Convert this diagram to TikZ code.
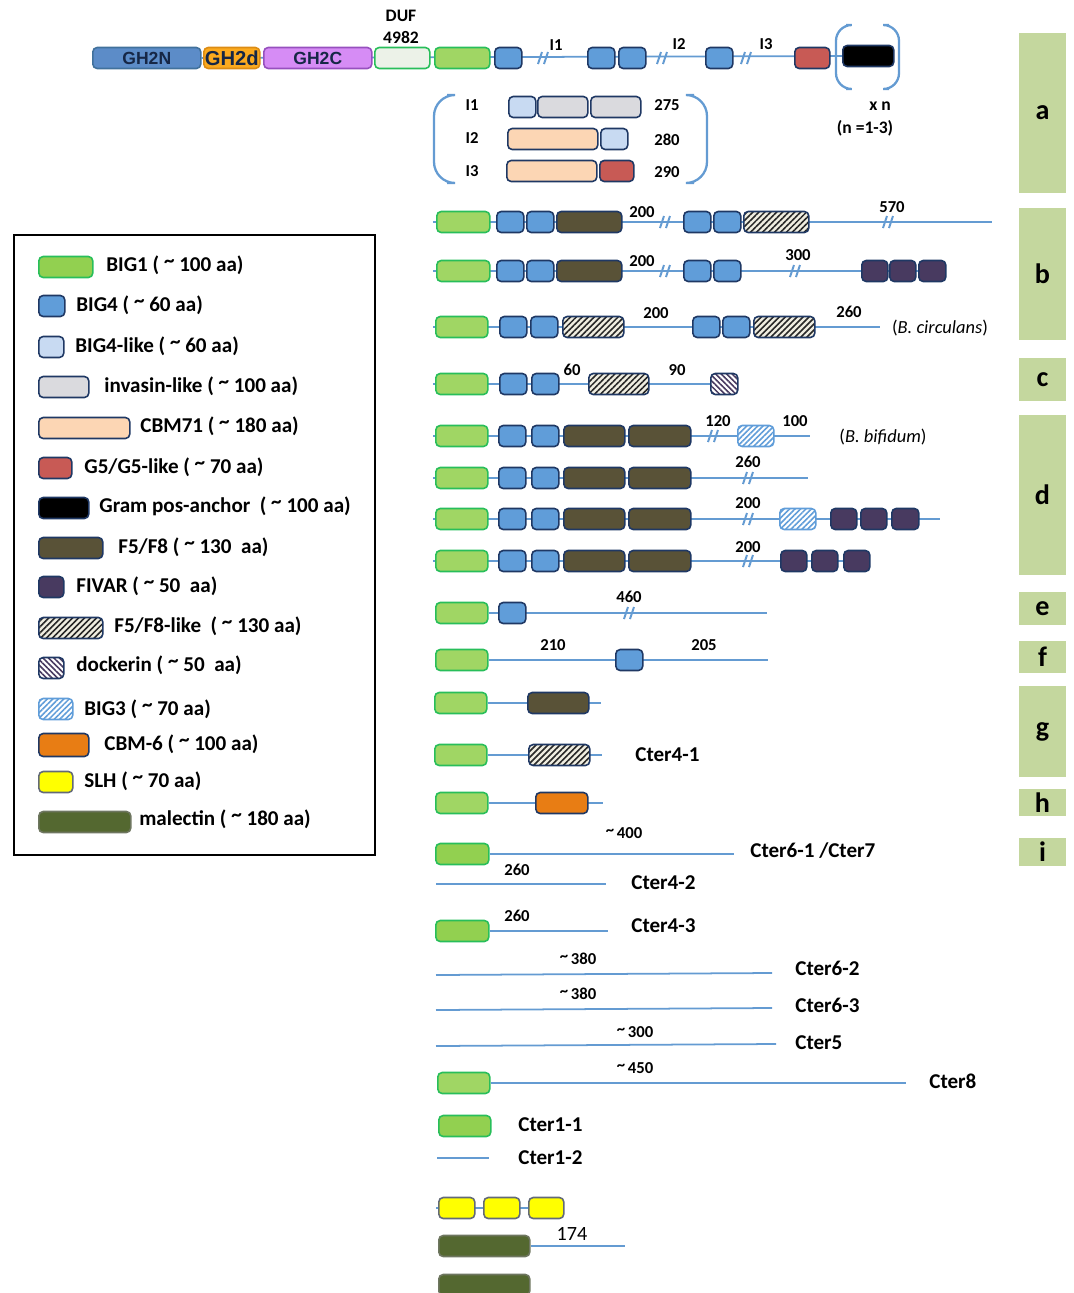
\documentclass[tikz,border=0pt]{standalone}
\usepackage{fontspec}
\setmainfont{Carlito}
\newfontfamily\arialf{Liberation Sans}
\usetikzlibrary{patterns.meta,backgrounds}
\newcommand\tld{\raisebox{0.35ex}{\textasciitilde}}
\definecolor{navy}{RGB}{31,56,100}
\definecolor{lineb}{RGB}{100,155,210}
\definecolor{bigone}{RGB}{160,214,100}
\definecolor{bigonek}{RGB}{146,208,80}
\definecolor{bigoned}{RGB}{40,190,90}
\definecolor{bigfour}{RGB}{96,157,217}
\definecolor{bigfourl}{RGB}{200,218,242}
\definecolor{invas}{RGB}{218,218,222}
\definecolor{cbmsev}{RGB}{252,214,180}
\definecolor{gfive}{RGB}{200,90,85}
\definecolor{ffive}{RGB}{89,82,55}
\definecolor{fivarc}{RGB}{72,58,96}
\definecolor{beige}{RGB}{240,238,225}
\definecolor{cbmsix}{RGB}{232,125,20}
\definecolor{slhc}{RGB}{255,255,0}
\definecolor{malec}{RGB}{84,104,48}
\definecolor{barg}{RGB}{196,215,158}
\definecolor{ghn}{RGB}{92,140,200}
\definecolor{ghnd}{RGB}{65,113,156}
\definecolor{ghd}{RGB}{252,170,30}
\definecolor{ghdd}{RGB}{220,140,20}
\definecolor{ghc}{RGB}{214,140,245}
\definecolor{ghcd}{RGB}{150,80,190}
\definecolor{dufc}{RGB}{236,242,232}
\begin{document}
\begin{tikzpicture}[x=0.2mm,y=-0.2mm,
    dom/.style={draw=navy,line width=0.9pt,rounded corners=2.5pt,inner sep=0pt,
      anchor=west,minimum height=4.2mm,minimum width=#1*0.2mm},
    dom/.default=27,
    big1/.style={dom=#1,fill=bigone,draw=bigoned},big1/.default=52,
    big4/.style={dom=#1,fill=bigfour},big4/.default=27,
    big4l/.style={dom=#1,fill=bigfourl},big4l/.default=27,
    inv/.style={dom=#1,fill=invas},inv/.default=50,
    cbm71/.style={dom=#1,fill=cbmsev},cbm71/.default=90,
    g5/.style={dom=#1,fill=gfive},g5/.default=35,
    gram/.style={dom=#1,fill=black},gram/.default=51,
    f58/.style={dom=#1,fill=ffive},f58/.default=62,
    fivar/.style={dom=#1,fill=fivarc},fivar/.default=26,
    f58l/.style={dom=#1,preaction={fill=beige},pattern={Lines[angle=45,distance=2.4pt,line width=0.9pt]},pattern color=black!85},f58l/.default=62,
    dock/.style={dom=#1,preaction={fill=white},pattern={Lines[angle=-45,distance=2.2pt,line width=0.9pt]},pattern color=fivarc},dock/.default=27,
    big3/.style={dom=#1,draw=bigfour,preaction={fill=white},pattern={Lines[angle=45,distance=2.2pt,line width=0.9pt]},pattern color=bigfour},big3/.default=36,
    cbm6/.style={dom=#1,fill=cbmsix},cbm6/.default=52,
    slhb/.style={dom=#1,fill=slhc,draw=gray!70!navy},slhb/.default=36,
    mal/.style={dom=#1,fill=malec,draw=gray!60!malec},mal/.default=91,
    gh/.style={dom=#1,font=\arialf\bfseries\fontsize{10}{12}\selectfont,text=navy!70!black},
    ln/.style={draw=lineb,line width=1pt},
    num/.style={font=\bfseries\fontsize{9.5}{11}\selectfont,inner sep=0pt},
    lab/.style={font=\bfseries\fontsize{12}{14}\selectfont,anchor=west,inner sep=0pt},
    leg/.style={font=\bfseries\fontsize{12}{14}\selectfont,anchor=west,inner sep=0pt},
    bar/.style={fill=barg,minimum width=47*0.2mm,minimum height=#1*0.2mm,inner sep=0pt,font=\bfseries\fontsize{16}{18}\selectfont},
    brk/.pic={\draw[lineb,line width=1.1pt] (-5,6) -- (-1,-6) (1,6) -- (5,-6);}]
\useasboundingbox (0,0) rectangle (1073,1293);

\node[gh=108,fill=ghn,draw=ghnd] (gh2n) at (92,58) {GH2N};
\node[gh=56,fill=ghd,draw=ghdd,font=\arialf\bfseries\fontsize{11.5}{13}\selectfont] (gh2d) at (203,58) {GH2d};
\node[gh=108,fill=ghc,draw=ghcd] (gh2c) at (263,58) {GH2C};
\node[dom=55,fill=dufc,draw=bigoned] (duf) at (374,58) {};
\node[num,font=\bfseries\fontsize{10}{12}\selectfont] (duft) at (401,16) {DUF};
\node[num,font=\bfseries\fontsize{10}{12}\selectfont] (dufn) at (401,37) {4982};
\node[big1=55] (a1) at (434,58) {};
\node[big4] (a2) at (494,58) {};
\node[big4] (a3) at (587,58) {};
\node[big4] (a4) at (618,58) {};
\node[big4] (a5) at (705,58) {};
\node[g5] (a6) at (794,58) {};
\node[gram] (a7) at (842,56) {};
\pic at (543,58) {brk};
\pic at (662,58) {brk};
\pic at (746,58) {brk};
\node[num] (ti1) at (556,45) {I1};
\node[num] (ti2) at (679,44) {I2};
\node[num] (ti3) at (766,44) {I3};
\draw[ln,line width=1.3pt,rounded corners=9] (846,25) -- (836,25) -- (836,89) -- (846,89);
\draw[ln,line width=1.3pt,rounded corners=9] (889,25) -- (899,25) -- (899,89) -- (889,89);
\node[num,font=\bfseries\fontsize{10}{12}\selectfont] (xn) at (880,106) {x n};
\node[num,font=\bfseries\fontsize{10}{12}\selectfont] (nn) at (865,128) {(n =1-3)};

\draw[ln,line width=1.3pt,rounded corners=12] (447,95) -- (434,95) -- (434,183) -- (447,183);
\draw[ln,line width=1.3pt,rounded corners=12] (694,95) -- (707,95) -- (707,183) -- (694,183);
\node[num] (li1) at (472,105) {I1};
\node[num] (li2) at (472,138) {I2};
\node[num] (li3) at (472,171) {I3};
\node[big4l] (i1a) at (508,107) {};
\node[inv] (i1b) at (537,107) {};
\node[inv] (i1c) at (590,107) {};
\node[cbm71] (i2a) at (507,139) {};
\node[big4l] (i2b) at (600,139) {};
\node[cbm71] (i3a) at (506,171) {};
\node[g5=34] (i3b) at (599,171) {};
\node[num] (l275) at (667,105) {275};
\node[num] (l280) at (667,140) {280};
\node[num] (l290) at (667,172) {290};

\node[big1=53] (b1a) at (436,222) {};
\node[big4] (b1b) at (496,222) {};
\node[big4] (b1c) at (526,222) {};
\node[f58=65] (b1d) at (556,222) {};
\node[big4] (b1e) at (683,222) {};
\node[big4] (b1f) at (713,222) {};
\node[f58l=65] (b1g) at (743,222) {};
\coordinate (b1s) at (433,222);
\coordinate (b1t) at (992,222);
\pic at (665,222) {brk};
\pic at (888,222) {brk};
\node[num] (b1n) at (642,212) {200};
\node[num] (b1m) at (892,207) {570};

\node[big1=53] (b2a) at (436,271) {};
\node[big4] (b2b) at (496,271) {};
\node[big4] (b2c) at (526,271) {};
\node[f58=65] (b2d) at (556,271) {};
\node[big4] (b2e) at (683,271) {};
\node[big4] (b2f) at (713,271) {};
\node[fivar] (b2g) at (861,271) {};
\node[fivar] (b2h) at (889,271) {};
\node[fivar=27] (b2i) at (918,271) {};
\coordinate (b2s) at (433,271);
\pic at (665,271) {brk};
\pic at (795,271) {brk};
\node[num] (b2n) at (642,261) {200};
\node[num] (b2m) at (798,255) {300};

\node[big1] (b3a) at (435,327) {};
\node[big4] (b3b) at (499,327) {};
\node[big4] (b3c) at (530,327) {};
\node[f58l=61] (b3d) at (562,327) {};
\node[big4] (b3e) at (692,327) {};
\node[big4] (b3f) at (722,327) {};
\node[f58l=61] (b3g) at (753,327) {};
\coordinate (b3s) at (433,327);
\coordinate (b3t) at (880,327);
\node[num] (b3n) at (656,313) {200};
\node[num] (b3m) at (849,312) {260};
\node[font=\fontsize{10.5}{12}\selectfont,inner sep=0pt] (b3o) at (940,328) {(\textit{B. circulans})};

\node[big1] (c1a) at (435,384) {};
\node[big4] (c1b) at (499,384) {};
\node[big4] (c1c) at (531,384) {};
\node[f58l=60] (c1d) at (588,384) {};
\node[dock] (c1e) at (710,384) {};
\coordinate (c1s) at (433,384);
\node[num] (c1n) at (572,370) {60};
\node[num] (c1m) at (677,370) {90};

\node[big1] (d1a) at (435,436) {};
\node[big4] (d1b) at (498,436) {};
\node[big4] (d1c) at (531,436) {};
\node[f58=61] (d1d) at (563,436) {};
\node[f58] (d1e) at (628,436) {};
\node[big3] (d1f) at (737,436) {};
\coordinate (d1s) at (433,436);
\coordinate (d1t) at (810,436);
\pic at (713,436) {brk};
\node[num] (d1n) at (718,421) {120};
\node[num] (d1m) at (795,421) {100};
\node[font=\fontsize{10.5}{12}\selectfont,inner sep=0pt] (d1o) at (883,437) {(\textit{B. bifidum})};

\node[big1] (d2a) at (435,478) {};
\node[big4] (d2b) at (498,478) {};
\node[big4] (d2c) at (531,478) {};
\node[f58=61] (d2d) at (563,478) {};
\node[f58] (d2e) at (628,478) {};
\coordinate (d2s) at (433,478);
\coordinate (d2t) at (808,478);
\pic at (748,478) {brk};
\node[num] (d2n) at (748,462) {260};

\node[big1] (d3a) at (435,519) {};
\node[big4] (d3b) at (498,519) {};
\node[big4] (d3c) at (531,519) {};
\node[f58=61] (d3d) at (563,519) {};
\node[f58] (d3e) at (628,519) {};
\node[big3] (d3f) at (779,519) {};
\node[fivar] (d3g) at (830,519) {};
\node[fivar] (d3h) at (860,519) {};
\node[fivar=27] (d3i) at (891,519) {};
\coordinate (d3s) at (433,519);
\coordinate (d3t) at (940,519);
\pic at (748,519) {brk};
\node[num] (d3n) at (748,503) {200};

\node[big1] (d4a) at (435,561) {};
\node[big4] (d4b) at (498,561) {};
\node[big4] (d4c) at (531,561) {};
\node[f58=61] (d4d) at (563,561) {};
\node[f58] (d4e) at (628,561) {};
\node[fivar] (d4f) at (780,561) {};
\node[fivar] (d4g) at (811,561) {};
\node[fivar] (d4h) at (843,561) {};
\coordinate (d4s) at (433,561);
\pic at (748,561) {brk};
\node[num] (d4n) at (748,547) {200};

\node[big1] (e1a) at (435,613) {};
\node[big4] (e1b) at (498,613) {};
\coordinate (e1t) at (767,613);
\pic at (629,613) {brk};
\node[num] (e1n) at (629,597) {460};

\node[big1] (f1a) at (435,660) {};
\node[big4] (f1b) at (615,660) {};
\coordinate (f1t) at (768,660);
\node[num] (f1n) at (553,645) {210};
\node[num] (f1m) at (704,645) {205};

\node[big1] (g1a) at (434,703) {};
\node[f58=61] (g1b) at (527,703) {};
\coordinate (g1t) at (601,703);

\node[big1] (g2a) at (434,755) {};
\node[f58l=61] (g2b) at (528,755) {};
\coordinate (g2t) at (602,755);
\node[lab] (g2l) at (635,755) {Cter4-1};

\node[big1] (h1a) at (435,803) {};
\node[cbm6] (h1b) at (535,803) {};
\coordinate (h1t) at (603,803);

\node[big1=53,fill=bigonek] (k1a) at (435,854) {};
\coordinate (k1t) at (734,854);
\node[num] (k1n) at (624,833) {\tld\,400};
\node[lab] (k1l) at (750,851) {Cter6-1 /Cter7};

\coordinate (k2s) at (436,884);
\coordinate (k2t) at (606,884);
\node[num] (k2n) at (517,870) {260};
\node[lab] (k2l) at (631,883) {Cter4-2};

\node[big1=53,fill=bigonek] (k3a) at (435,931) {};
\coordinate (k3t) at (608,931);
\node[num] (k3n) at (517,916) {260};
\node[lab] (k3l) at (631,926) {Cter4-3};

\coordinate (k4s) at (436,975);
\coordinate (k4t) at (772,973);
\node[num] (k4n) at (578,959) {\tld\,380};
\node[lab] (k4l) at (795,968) {Cter6-2};

\coordinate (k5s) at (436,1010);
\coordinate (k5t) at (772,1008);
\node[num] (k5n) at (578,994) {\tld\,380};
\node[lab] (k5l) at (795,1005) {Cter6-3};

\coordinate (k6s) at (436,1046);
\coordinate (k6t) at (776,1044);
\node[num] (k6n) at (635,1032) {\tld\,300};
\node[lab] (k6l) at (795,1043) {Cter5};

\node[big1] (k7a) at (437,1083) {};
\coordinate (k7t) at (906,1083);
\node[num] (k7n) at (635,1068) {\tld\,450};
\node[lab] (k7l) at (929,1081) {Cter8};

\node[big1,fill=bigonek] (k8a) at (438,1126) {};
\node[lab] (k8l) at (518,1125) {Cter1-1};

\coordinate (k9s) at (437,1158);
\coordinate (k9t) at (489,1158);
\node[lab] (k9l) at (518,1158) {Cter1-2};

\node[slhb] (s1) at (438,1208) {};
\node[slhb] (s2) at (483,1208) {};
\node[slhb=35] (s3) at (528,1208) {};
\coordinate (s0) at (436,1208);

\node[mal] (m1) at (438,1246) {};
\coordinate (m1t) at (625,1246);
\node[font=\fontsize{11.5}{13}\selectfont,inner sep=0pt] (m1n) at (572,1234) {174};
\node[mal] (m2) at (438,1285) {};

\draw[line width=1.2pt] (14,235) rectangle (375,855);
\node[big1=54,fill=bigonek] (g01) at (38,267) {};
\node[leg] (t01) at (106,265) {BIG1 ( \tld{} 100 aa)};
\node[big4=26] (g02) at (38,306) {};
\node[leg] (t02) at (76,305) {BIG4 ( \tld{} 60 aa)};
\node[big4l=25] (g03) at (38,347) {};
\node[leg] (t03) at (75,346) {BIG4-like ( \tld{} 60 aa)};
\node[inv=50] (g04) at (38,387) {};
\node[leg] (t04) at (104,386) {invasin-like ( \tld{} 100 aa)};
\node[cbm71=91] (g05) at (38,428) {};
\node[leg] (t05) at (140,426) {CBM71 ( \tld{} 180 aa)};
\node[g5=33] (g06) at (38,468) {};
\node[leg] (t06) at (84,467) {G5/G5-like ( \tld{} 70 aa)};
\node[gram=50] (g07) at (38,508) {};
\node[leg] (t07) at (99,506) {Gram pos-anchor~ ( \tld{} 100 aa)};
\node[f58=64] (g08) at (38,548) {};
\node[leg] (t08) at (118,547) {F5/F8 ( \tld{} 130~ aa)};
\node[fivar=25] (g09) at (38,587) {};
\node[leg] (t09) at (76,586) {FIVAR ( \tld{} 50~ aa)};
\node[f58l=64] (g10) at (38,628) {};
\node[leg] (t10) at (114,626) {F5/F8-like~ ( \tld{} 130 aa)};
\node[dock=25] (g11) at (38,668) {};
\node[leg] (t11) at (76,665) {dockerin ( \tld{} 50~ aa)};
\node[big3=34] (g12) at (38,709) {};
\node[leg] (t12) at (84,709) {BIG3 ( \tld{} 70 aa)};
\node[cbm6=50,minimum height=4.6mm] (g13) at (38,745) {};
\node[leg] (t13) at (104,744) {CBM-6 ( \tld{} 100 aa)};
\node[slhb=34] (g14) at (38,782) {};
\node[leg] (t14) at (84,781) {SLH ( \tld{} 70 aa)};
\node[mal=92] (g15) at (38,822) {};
\node[leg] (t15) at (139,819) {malectin ( \tld{} 180 aa)};

\node[bar=160] (ra) at (1042.5,113) {a};
\node[bar=132] (rb) at (1042.5,274) {b};
\node[bar=43] (rc) at (1042.5,379.5) {c};
\node[bar=160] (rd) at (1042.5,495) {d};
\node[bar=33] (re) at (1042.5,608.5) {e};
\node[bar=32] (rf) at (1042.5,657) {f};
\node[bar=91] (rg) at (1042.5,731.5) {g};
\node[bar=27] (rh) at (1042.5,802.5) {h};
\node[bar=28] (ri) at (1042.5,852) {i};

\begin{scope}[on background layer]
  \draw[ln] (gh2n.east) -- (a7.west);
  \draw[ln] (b1s) -- (b1t);
  \draw[ln] (b2s) -- (b2i.west);
  \draw[ln] (b3s) -- (b3t);
  \draw[ln] (c1s) -- (c1e.west);
  \draw[ln] (d1s) -- (d1t);
  \draw[ln] (d2s) -- (d2t);
  \draw[ln] (d3s) -- (d3t);
  \draw[ln] (d4s) -- (d4h.west);
  \draw[ln] (e1a.east) -- (e1t);
  \draw[ln] (f1a.east) -- (f1t);
  \draw[ln] (g1a.east) -- (g1t);
  \draw[ln] (g2a.east) -- (g2t);
  \draw[ln] (h1a.east) -- (h1t);
  \draw[ln] (k1a.east) -- (k1t);
  \draw[ln] (k2s) -- (k2t);
  \draw[ln] (k3a.east) -- (k3t);
  \draw[ln] (k4s) -- (k4t);
  \draw[ln] (k5s) -- (k5t);
  \draw[ln] (k6s) -- (k6t);
  \draw[ln] (k7a.east) -- (k7t);
  \draw[ln] (k9s) -- (k9t);
  \draw[ln] (s0) -- (s3.west);
  \draw[ln] (m1.east) -- (m1t);
\end{scope}
\end{tikzpicture}
\end{document}
